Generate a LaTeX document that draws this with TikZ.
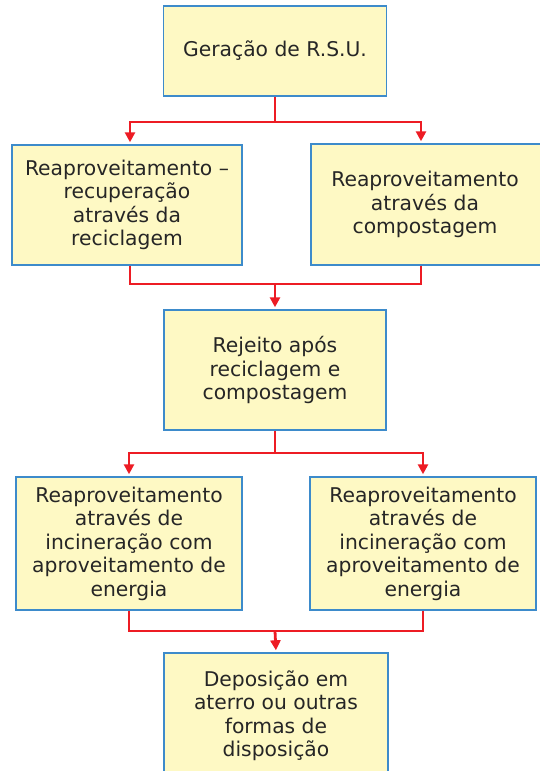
\documentclass[tikz,border=0pt]{standalone}
\usepackage{fontspec}
\setmainfont{DejaVu Sans}
\usetikzlibrary{arrows.meta,calc}
\definecolor{boxfill}{HTML}{FEF9C4}
\definecolor{boxline}{HTML}{3D8BCB}
\definecolor{linkred}{HTML}{ED1C24}
\definecolor{txt}{HTML}{262626}
\begin{document}
\begin{tikzpicture}[x=1pt,y=-1pt,
  flowbox/.style={draw=boxline,fill=boxfill,line width=1.4pt,align=center,
    text=txt,inner sep=0pt,font=\fontsize{20.3}{23.5}\selectfont},
  link/.style={draw=linkred,line width=2.8pt,line join=miter},
  arrowlink/.style={link,-{Triangle[length=10pt,width=10pt]},shorten >=2pt}]
\useasboundingbox (0,0) rectangle (539,771);
\node[flowbox,minimum width=223pt,minimum height=90pt] (b1) at (275,51) {Geração de R.S.U.};
\node[flowbox,minimum width=230pt,minimum height=120pt] (b2) at (127,205) {Reaproveitamento –\\recuperação\\através da\\reciclagem};
\node[flowbox,minimum width=236pt,minimum height=121pt] (b3) at (429,204.5) {\hspace*{-8pt}Reaproveitamento\\\hspace*{-8pt}através da\\\hspace*{-8pt}compostagem};
\node[flowbox,minimum width=222pt,minimum height=120pt] (b4) at (275,370) {Rejeito após\\reciclagem e\\compostagem};
\node[flowbox,minimum width=226pt,minimum height=133pt] (b5) at (129,543.5) {Reaproveitamento\\através de\\incineração com\\aproveitamento de\\energia};
\node[flowbox,minimum width=226pt,minimum height=133pt] (b6) at (423,543.5) {Reaproveitamento\\através de\\incineração com\\aproveitamento de\\energia};
\node[flowbox,minimum width=224pt,minimum height=125pt] (b7) at (276,715.5) {Deposição em\\aterro ou outras\\formas de\\disposição};
\coordinate (j1) at (275,122);
\coordinate (j2) at (275,284);
\coordinate (j3) at (275,453);
\coordinate (j4) at (275,631);
\coordinate (t2) at ($(b2.north)+(3,0)$);
\coordinate (t3) at ($(b3.north)+(-8,0)$);
\coordinate (s2) at ($(b2.south)+(3,0)$);
\coordinate (s3) at ($(b3.south)+(-8,0)$);
\draw[link] (b1.south) -- (j1);
\draw[arrowlink] (j1) -| (t2);
\draw[arrowlink] (j1) -| (t3);
\draw[link] (s2) |- (j2);
\draw[link] (s3) |- (j2);
\draw[arrowlink] (j2) -- (b4.north);
\draw[link] (b4.south) -- (j3);
\draw[arrowlink] (j3) -| (b5.north);
\draw[arrowlink] (j3) -| (b6.north);
\draw[link] (b5.south) |- (j4);
\draw[link] (b6.south) |- (j4);
\draw[arrowlink] (j4) -- (b7.north);
\end{tikzpicture}
\end{document}
